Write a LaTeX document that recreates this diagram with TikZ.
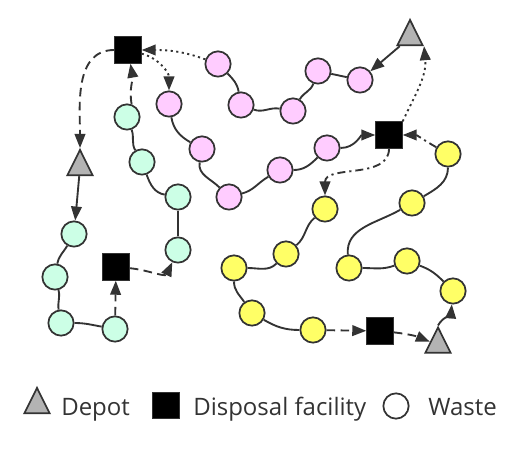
\documentclass[tikz,border=0pt]{standalone}
\usepackage{fontspec}
\setmainfont{Open Sans}
\usetikzlibrary{arrows.meta,shapes.geometric}
\definecolor{pk}{HTML}{FFCCFF}
\definecolor{gr}{HTML}{CCFFE6}
\definecolor{yl}{HTML}{FFFF66}
\definecolor{dp}{HTML}{B3B3B3}
\definecolor{ln}{HTML}{333333}
\begin{document}
\begin{tikzpicture}[x=0.75pt,y=0.75pt,
  waste/.style={circle,draw=ln,line width=1.3pt,minimum size=19pt,inner sep=0},
  pw/.style={waste,fill=pk},
  gw/.style={waste,fill=gr},
  yw/.style={waste,fill=yl},
  fac/.style={rectangle,draw=ln,fill=black,line width=0.6pt,minimum size=20pt,inner sep=0},
  depot/.style={isosceles triangle,isosceles triangle apex angle=53,shape border rotate=90,draw=ln,fill=dp,line width=1.3pt,minimum width=19pt,minimum height=19pt,inner sep=0},
  link/.style={draw=ln,line width=1.4pt},
  arr/.style={link,-{Triangle[length=10.5pt,width=8pt]}},
  dashline/.style={dash pattern=on 6.5pt off 4pt},
  dotline/.style={dash pattern=on 1.6pt off 2.6pt},
  dashdotline/.style={dash pattern=on 6pt off 3pt on 1.6pt off 3pt},
  legtext/.style={anchor=base west,text=ln,font=\fontsize{18}{20}\selectfont,inner sep=0}
]
\useasboundingbox (0,0) rectangle (532,-452);
% depots and facilities
\node[depot] (dTR) at (410,-37.5) {};
\node[depot] (dL) at (80,-167.5) {};
\node[depot] (dBR) at (438,-345) {};
\node[fac] (sTL) at (128,-50) {};
\node[fac] (sM) at (389,-135) {};
\node[fac] (sL) at (116,-267) {};
\node[fac] (sBR) at (380,-331) {};
% pink
\node[pw] (p1) at (360,-80) {};
\node[pw] (p2) at (318,-71) {};
\node[pw] (p3) at (293,-111) {};
\node[pw] (p4) at (241,-105) {};
\node[pw] (p5) at (218,-64) {};
\node[pw] (p6) at (169,-104) {};
\node[pw] (p7) at (202,-149) {};
\node[pw] (p8) at (229,-197) {};
\node[pw] (p9) at (280,-170) {};
\node[pw] (p10) at (327,-148) {};
% green
\node[gw] (g1) at (74,-234) {};
\node[gw] (g2) at (55,-277) {};
\node[gw] (g3) at (61,-323) {};
\node[gw] (g4) at (115,-329) {};
\node[gw] (g5) at (178,-250) {};
\node[gw] (g6) at (178,-197) {};
\node[gw] (g7) at (142,-162) {};
\node[gw] (g8) at (127,-117) {};
% yellow
\node[yw] (y1) at (453,-291) {};
\node[yw] (y2) at (407,-261) {};
\node[yw] (y3) at (349,-268) {};
\node[yw] (y4) at (412,-203) {};
\node[yw] (y5) at (448,-154) {};
\node[yw] (y6) at (325,-209) {};
\node[yw] (y7) at (286,-254) {};
\node[yw] (y8) at (234,-268) {};
\node[yw] (y9) at (252,-313) {};
\node[yw] (y10) at (313,-330) {};
% pink route
\draw[arr] (dTR) -- (p1);
\draw[link] (p1) -- (p2);
\draw[link] (p2) to[out=-110,in=60] (p3);
\draw[link] (p4) to[out=-20,in=170] (p3);
\draw[link] (p5) to[out=-45,in=100] (p4);
\draw[arr,dotline] (p5) to[out=160,in=0] (sTL);
\draw[arr,dotline] (sTL) to[out=-15,in=90] (p6);
\draw[link] (p6) to[out=-80,in=150] (p7);
\draw[link] (p7) to[out=-100,in=135] (p8);
\draw[link] (p8) to[out=15,in=-150] (p9);
\draw[link] (p9) to[out=0,in=-135] (p10);
\draw[arr] (p10) to[out=0,in=180] (sM);
\draw[arr,dotline] (sM.north east) to[out=65,in=-85] (dTR.right corner);
% green route
\draw[arr] (dL) -- (g1);
\draw[link] (g1) to[out=-120,in=80] (g2);
\draw[link] (g2) to[out=-75,in=100] (g3);
\draw[link] (g3) to[out=0,in=170] (g4);
\draw[arr,dashline] (g4) -- (sL);
\draw[arr,dashline] (sL) to[out=-5,in=-115] (g5);
\draw[link] (g5) -- (g6);
\draw[link] (g7) to[out=-70,in=170] (g6);
\draw[link] (g8) to[out=-70,in=120] (g7);
\draw[arr,dashline] (g8.70) to[out=100,in=-80] (sTL);
\draw[arr,dashline] (sTL) to[out=180,in=90] (dL.apex);
% yellow route
\draw[arr] (dBR.apex) to[out=60,in=-95] (y1);
\draw[link] (y2) to[out=-20,in=135] (y1);
\draw[link] (y3) to[out=0,in=-160] (y2);
\draw[link] (y3) to[out=95,in=-150] (y4);
\draw[link] (y4) to[out=30,in=-90] (y5);
\draw[arr,dashdotline] (y5) to[out=150,in=0] (sM);
\draw[arr,dashdotline] (sM) to[out=-90,in=90] (y6);
\draw[link] (y6) to[out=-140,in=40] (y7);
\draw[link] (y8) to[out=0,in=-135] (y7);
\draw[link] (y8) to[out=-90,in=125] (y9);
\draw[link] (y9) to[out=-30,in=180] (y10);
\draw[arr,dashline] (y10) -- (sBR);
\draw[arr,dashline] (sBR) to[bend left=8] (dBR);
% legend
\node[depot] (lgD) at (37,-405.5) {};
\node[legtext] (tD) at (61,-415) {Depot};
\node[fac] (lgF) at (166,-405.5) {};
\node[legtext] (tF) at (193,-415) {Disposal facility};
\node[waste,fill=white] (lgW) at (396,-406) {};
\node[legtext] (tW) at (428,-415) {Waste};
\end{tikzpicture}
\end{document}
